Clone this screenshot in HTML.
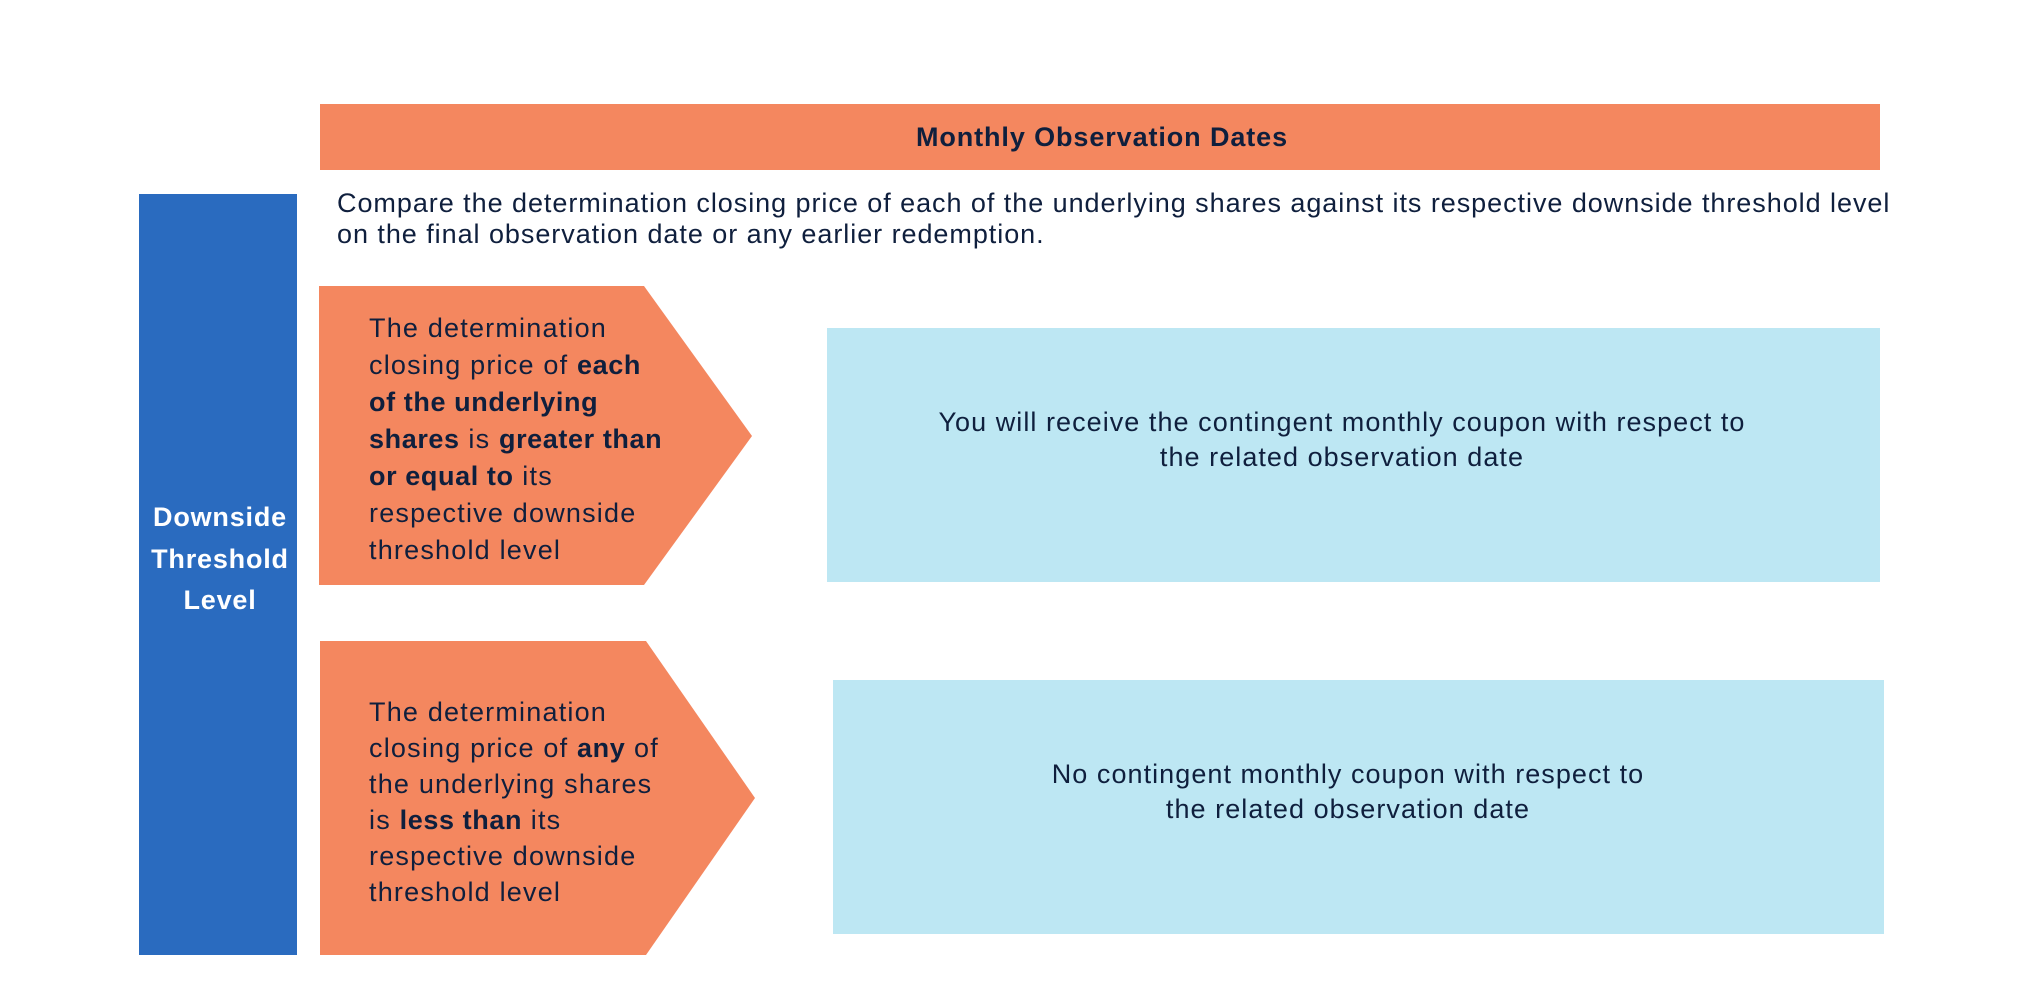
<!DOCTYPE html>
<html><head><meta charset="utf-8"><style>
body{margin:0;width:2040px;height:986px;background:#fff;position:relative;overflow:hidden;font-family:"Liberation Sans",Arial,sans-serif;color:#0f1f3d}
.a{position:absolute}
.l{position:absolute;white-space:nowrap;font-size:27px;letter-spacing:1.2px;line-height:36px}
.c{text-align:center}
b{font-weight:bold;letter-spacing:0.6px}
</style></head><body>
<svg class="a" style="left:0;top:0" width="2040" height="986">
<rect x="139" y="194" width="158" height="761" fill="#2a6bbf"/>
<rect x="320" y="104" width="1560" height="66" fill="#f4875f"/>
<polygon points="319,286 644,286 752,436 644,585 319,585" fill="#f4875f"/>
<polygon points="320,641 646,641 755,798 646,955 320,955" fill="#f4875f"/>
<rect x="827" y="328" width="1053" height="254" fill="#bde7f3"/>
<rect x="833" y="680" width="1051" height="254" fill="#bde7f3"/>
</svg>
<div class="a c" style="left:322px;top:119px;width:1560px;font-size:27px;letter-spacing:0.9px;font-weight:bold;line-height:36px">Monthly Observation Dates</div>
<div class="l" style="left:337px;top:188px;line-height:31px;letter-spacing:0.95px">Compare the determination closing price of each of the underlying shares against its respective downside threshold level<br>on the final observation date or any earlier redemption.</div>
<div class="a c" style="left:141px;top:497px;width:158px;color:#fff;font-weight:bold;font-size:27px;letter-spacing:0.8px;line-height:41.5px">Downside<br>Threshold<br>Level</div>
<div class="l" style="left:369px;top:310px;line-height:37px">The determination<br>closing price of <b>each</b><br><b>of the underlying</b><br><b>shares</b> is <b>greater than</b><br><b>or equal to</b> its<br>respective downside<br>threshold level</div>
<div class="l" style="left:369px;top:694px;line-height:36px">The determination<br>closing price of <b>any</b> of<br>the underlying shares<br>is <b>less than</b> its<br>respective downside<br>threshold level</div>
<div class="a c" style="left:827px;top:405px;width:1030px;font-size:27px;letter-spacing:1.05px;line-height:35px">You will receive the contingent monthly coupon with respect to<br>the related observation date</div>
<div class="a c" style="left:833px;top:757px;width:1030px;font-size:27px;letter-spacing:1.05px;line-height:35px">No contingent monthly coupon with respect to<br>the related observation date</div>
</body></html>
